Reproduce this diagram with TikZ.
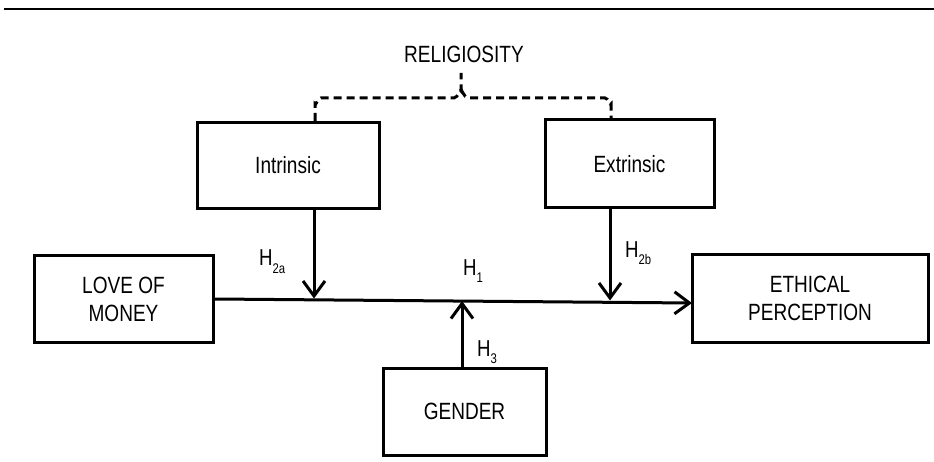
\documentclass[tikz,border=0pt]{standalone}
\usepackage{fontspec}
\setmainfont[FakeStretch=0.81]{Liberation Sans}
\usetikzlibrary{arrows.meta}
\tikzset{
  box/.style={draw, line width=3pt, rectangle, inner sep=0pt, align=center,
    font=\fontsize{23.5}{28}\selectfont},
  arr/.style={line width=3pt, -{Straight Barb[length=15pt,width=22pt,line width=3pt]}},
  lbl/.style={inner sep=0pt, anchor=base west, font=\fontsize{23}{26}\selectfont},
  brace/.style={line width=3pt, dash pattern=on 8pt off 5pt}
}
\newcommand{\subl}[1]{\raisebox{-7pt}{\fontsize{14}{14}\selectfont #1}}
\begin{document}
\begin{tikzpicture}[x=1pt,y=-1pt]
\useasboundingbox (0,0) rectangle (934,462);
\draw[line width=2pt] (4,9) -- (934,9);
% boxes
\node[box, minimum width=182pt, minimum height=86pt] (intr) at (288,165.5) {Intrinsic};
\node[box, minimum width=169pt, minimum height=88pt] (extr) at (629.5,164) {Extrinsic};
\node[box, minimum width=179pt, minimum height=86pt] (lom) at (123.5,299) {LOVE OF\\MONEY};
\node[box, minimum width=236pt, minimum height=87pt] (ep) at (810,298.5) {ETHICAL\\PERCEPTION};
\node[box, minimum width=163pt, minimum height=87pt] (gen) at (464.5,411.5) {GENDER};
\node[inner sep=0pt, anchor=base, font=\fontsize{23.5}{26}\selectfont] (rel) at (464,63) {RELIGIOSITY};
% main arrow
\coordinate (epin) at (692,303);
\draw[arr] (lom.east) -- (epin);
% moderator arrows
\coordinate (i1) at (314,298.5);
\coordinate (e1) at (610,300.5);
\coordinate (g1) at (462,301);
\draw[arr] (intr.south -| i1) -- (i1);
\draw[arr] (extr.south -| e1) -- (e1);
\draw[arr] (gen.north -| g1) -- (g1);
% bracket
\coordinate (bl) at (315,98);
\coordinate (bm) at (461,98);
\coordinate (br) at (611,98);
\draw[brace] (intr.north -| bl) -- (315,104) to[out=-90,in=180] (321,98) -- (454,98)
  to[out=0,in=90] (461,91) -- (461,73);
\draw[brace] (461,91) to[out=90,in=180] (468,98) -- (605,98) to[out=0,in=-90] (611,104) -- (extr.north -| br);
% labels
\node[lbl] (h2a) at (259,266) {H\subl{2a}};
\node[lbl] (h1) at (463,276) {H\subl{1}};
\node[lbl] (h2b) at (625,258) {H\subl{2b}};
\node[lbl] (h3) at (477,356) {H\subl{3}};
\end{tikzpicture}
\end{document}
